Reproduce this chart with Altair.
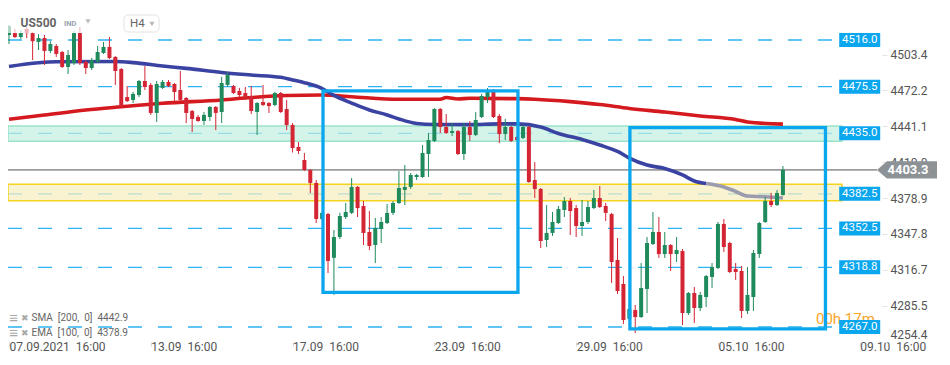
import json
import pandas as pd
import altair as alt

# ---------------- data ----------------
opens = [4520.3, 4522.0, 4518.6, 4525.5, 4522.0, 4514.3, 4517.7, 4506.5, 4510.8, 4505.6,
         4492.6, 4496.0, 4522.0, 4497.0, 4491.7, 4497.0, 4504.7, 4510.0, 4501.3, 4490.8,
         4466.5, 4464.0, 4468.3, 4480.4, 4477.0, 4452.7, 4474.4, 4479.6, 4477.8, 4472.6,
         4465.7, 4454.4, 4449.2, 4445.7, 4449.2, 4457.9, 4453.5, 4477.0, 4476.1, 4471.8,
         4470.0, 4467.4, 4453.5, 4462.2, 4461.3, 4459.6, 4470.0, 4456.1, 4442.3, 4423.2,
         4411.9, 4403.2, 4392.0, 4360.7, 4365.0, 4327.0, 4345.1, 4362.4, 4366.0, 4388.5,
         4372.0, 4349.4, 4338.1, 4352.0, 4357.2, 4366.0, 4374.6, 4385.9, 4388.5, 4397.1,
         4397.1, 4417.1, 4428.4, 4456.1, 4440.5, 4435.3, 4437.0, 4417.1, 4440.5, 4433.6,
         4449.2, 4466.5, 4471.8, 4450.1, 4434.4, 4440.5, 4431.8, 4431.0, 4440.5, 4394.5,
         4386.7, 4342.5, 4348.6, 4357.2, 4368.5, 4376.3, 4370.2, 4354.6, 4358.1, 4370.2,
         4378.9, 4372.0, 4365.0, 4325.1, 4304.3, 4274.2, 4281.7, 4275.6, 4300.0, 4339.0,
         4349.4, 4330.3, 4338.1, 4330.3, 4332.9, 4279.1, 4296.5, 4283.5, 4293.0, 4310.4,
         4318.2, 4356.4, 4339.9, 4317.3, 4315.6, 4280.9, 4293.0, 4330.3, 4358.1, 4376.3,
         4372.8, 4381.5]
highs = [4529.0, 4525.5, 4524.7, 4527.0, 4523.0, 4521.0, 4520.3, 4515.0, 4512.5, 4506.5,
         4507.3, 4523.8, 4527.3, 4498.6, 4500.4, 4510.8, 4514.3, 4518.6, 4502.0, 4491.7,
         4476.1, 4470.9, 4481.3, 4493.4, 4478.7, 4480.4, 4481.3, 4481.3, 4478.7, 4489.1,
         4466.5, 4455.3, 4451.0, 4453.5, 4458.7, 4458.7, 4484.0, 4488.2, 4477.0, 4474.4,
         4475.2, 4476.1, 4462.2, 4477.0, 4462.2, 4470.9, 4470.9, 4464.0, 4444.0, 4427.5,
         4418.0, 4404.0, 4394.5, 4366.8, 4366.0, 4351.2, 4366.0, 4374.6, 4396.3, 4389.3,
         4376.3, 4367.6, 4361.6, 4362.4, 4373.7, 4376.3, 4402.3, 4407.5, 4400.6, 4399.8,
         4424.9, 4435.3, 4457.0, 4457.0, 4451.8, 4444.0, 4437.9, 4444.0, 4445.7, 4453.5,
         4469.2, 4474.4, 4473.5, 4451.8, 4447.5, 4441.4, 4432.7, 4442.3, 4441.4, 4410.1,
         4387.6, 4372.8, 4366.8, 4372.0, 4379.8, 4379.0, 4372.8, 4377.2, 4376.3, 4385.9,
         4389.3, 4374.6, 4366.0, 4344.2, 4311.2, 4286.1, 4286.1, 4322.5, 4345.1, 4366.8,
         4362.4, 4349.4, 4339.0, 4345.1, 4334.7, 4297.4, 4301.7, 4297.4, 4312.1, 4322.5,
         4358.1, 4360.7, 4340.8, 4322.5, 4320.0, 4319.0, 4333.8, 4358.1, 4379.8, 4383.3,
         4385.9, 4406.6]
lows = [4512.5, 4517.7, 4516.9, 4517.7, 4498.6, 4507.3, 4494.3, 4504.7, 4501.3, 4491.7,
        4486.5, 4494.3, 4494.3, 4486.5, 4490.0, 4496.0, 4503.9, 4499.5, 4477.0, 4457.9,
        4462.2, 4461.3, 4466.5, 4472.6, 4451.0, 4444.9, 4473.5, 4475.2, 4463.0, 4462.2,
        4444.0, 4436.2, 4445.0, 4442.3, 4445.7, 4437.9, 4444.0, 4475.2, 4469.2, 4466.5,
        4464.0, 4451.8, 4433.6, 4458.7, 4452.7, 4458.7, 4452.7, 4437.9, 4418.4, 4417.1,
        4402.3, 4383.3, 4357.2, 4359.8, 4313.8, 4294.8, 4343.3, 4360.7, 4365.0, 4362.4,
        4338.1, 4333.8, 4322.5, 4339.9, 4356.4, 4364.2, 4373.7, 4372.8, 4386.7, 4394.5,
        4396.3, 4397.1, 4427.5, 4435.3, 4434.4, 4432.7, 4416.2, 4411.9, 4428.4, 4432.7,
        4448.3, 4461.3, 4448.3, 4426.6, 4429.2, 4427.5, 4429.0, 4430.1, 4392.0, 4378.9,
        4335.5, 4336.4, 4346.0, 4356.4, 4362.4, 4346.8, 4345.1, 4346.0, 4356.4, 4369.4,
        4370.2, 4359.0, 4305.2, 4295.6, 4269.6, 4271.6, 4261.8, 4275.0, 4279.1, 4338.1,
        4326.9, 4326.9, 4315.6, 4323.4, 4268.7, 4277.4, 4270.5, 4280.9, 4284.3, 4300.8,
        4317.3, 4332.1, 4313.8, 4307.8, 4274.8, 4278.2, 4280.9, 4326.9, 4357.2, 4371.1,
        4372.0, 4381.0]
closes = [4528.0, 4518.6, 4522.0, 4522.0, 4515.0, 4517.7, 4506.5, 4512.5, 4503.9, 4492.6,
          4503.0, 4522.0, 4496.0, 4491.7, 4498.6, 4505.6, 4510.0, 4500.4, 4489.1, 4458.7,
          4463.0, 4469.2, 4480.4, 4475.2, 4452.7, 4477.8, 4479.6, 4476.1, 4470.9, 4464.0,
          4452.7, 4447.5, 4445.7, 4451.0, 4457.9, 4452.7, 4478.7, 4485.6, 4470.0, 4468.3,
          4465.7, 4454.4, 4461.3, 4459.6, 4458.7, 4470.0, 4453.5, 4442.3, 4422.3, 4419.7,
          4403.2, 4392.0, 4360.7, 4366.0, 4324.3, 4345.1, 4363.3, 4366.8, 4388.5, 4370.2,
          4348.6, 4337.3, 4352.9, 4358.1, 4366.0, 4374.6, 4387.6, 4388.5, 4398.9, 4398.9,
          4418.0, 4429.2, 4456.1, 4440.5, 4435.3, 4437.0, 4417.1, 4440.5, 4433.6, 4446.6,
          4467.4, 4471.8, 4449.2, 4434.4, 4440.5, 4428.4, 4429.2, 4440.5, 4392.8, 4386.7,
          4341.6, 4348.6, 4358.1, 4369.4, 4376.3, 4367.6, 4354.6, 4358.1, 4371.1, 4378.9,
          4371.1, 4366.0, 4323.4, 4298.2, 4273.1, 4282.6, 4275.6, 4300.8, 4339.9, 4349.4,
          4330.3, 4338.1, 4330.3, 4333.8, 4279.1, 4296.5, 4283.5, 4294.8, 4311.2, 4319.0,
          4356.4, 4336.4, 4314.7, 4314.7, 4280.9, 4294.8, 4331.2, 4357.2, 4376.3, 4372.8,
          4383.3, 4403.3]

sma_idx = [0, 6, 13, 19, 26, 36, 41, 47, 53, 58, 66, 73, 74, 76, 78, 86, 89, 95, 100,
           105, 111, 117, 123, 125, 131]
sma_val = [4447.2, 4450.9, 4455.3, 4458.1, 4461.1, 4464.0, 4466.1, 4467.9, 4468.3, 4466.8,
           4464.6, 4464.6, 4466.1, 4464.8, 4465.4, 4465.1, 4464.6, 4462.5, 4460.0, 4456.6,
           4453.5, 4450.1, 4447.0, 4444.9, 4443.0]

ema_idx = [0, 5, 8, 18, 21, 26, 30, 36, 41, 46, 48, 50, 53, 55, 58, 61, 64, 66, 69, 72,
           78, 83, 86, 90, 93, 97, 100, 103, 105, 108, 111, 114, 116, 118, 121, 123, 125,
           128, 131]
ema_val = [4493.0, 4496.2, 4497.1, 4497.3, 4496.4, 4493.4, 4491.4, 4487.8, 4485.6, 4483.6,
           4481.3, 4479.0, 4473.9, 4467.9, 4461.3, 4455.3, 4451.0, 4447.5, 4443.6, 4442.7,
           4442.6, 4443.2, 4443.2, 4440.5, 4434.9, 4429.7, 4424.9, 4419.3, 4413.6, 4407.5,
           4404.5, 4398.9, 4393.7, 4391.5, 4388.5, 4384.6, 4380.6, 4380.0, 4378.9]
ema_grey_from = 118

levels = [4516.0, 4475.5, 4435.0, 4382.5, 4352.5, 4318.8, 4267.0]
level_text = ["4516.0", "4475.5", "4435.0", "4382.5", "4352.5", "4318.8", "4267.0"]
current_price = 4403.3

zone_names = ["teal", "yellow"]
zone_low = [4428.1, 4376.6]
zone_high = [4441.4, 4390.8]

box_start = [53.15, 105.1]
box_end = [86.15, 138.2]
box_top = [4471.8, 4439.9]
box_bottom = [4297.1, 4265.3]

x_tick_idx = [0, 24, 48, 72, 96, 120, 144]
x_tick_text = ["07.09.2021\u00a0 16:00", "13.09\u00a0 16:00", "17.09\u00a0 16:00",
               "23.09\u00a0 16:00", "29.09\u00a0 16:00", "05.10\u00a0 16:00",
               "09.10\u00a0 16:00"]
y_tick_vals = [4503.4, 4472.2, 4441.1, 4410.0, 4378.9, 4347.8, 4316.7, 4285.5, 4254.4]

# ---------------- frames ----------------
candles = pd.DataFrame({"i": list(range(len(opens))), "open": opens, "high": highs,
                        "low": lows, "close": closes})
candles["dir"] = ["up" if c >= o else "down" for o, c in zip(opens, closes)]
sma = pd.DataFrame({"i": sma_idx, "v": sma_val})
ema = pd.DataFrame({"i": ema_idx, "v": ema_val})
ema_blue = ema[ema["i"] <= ema_grey_from]
ema_grey = ema[ema["i"] >= ema_grey_from]
lv = pd.DataFrame({"price": levels, "label": level_text})
cur = pd.DataFrame({"price": [current_price], "label": [f"{current_price:.1f}"]})
zones = pd.DataFrame({"zone": zone_names, "lo": zone_low, "hi": zone_high})
boxes = pd.DataFrame({"x1": box_start, "x2": box_end, "top": box_top, "bottom": box_bottom})
one = pd.DataFrame({"a": [1]})

W, H = 874, 334
xs = alt.Scale(domain=[-0.169, 147.77], nice=False, zero=False)
ys = alt.Scale(domain=[4253.98, 4543.76], nice=False, zero=False)
FONT = "Roboto"
GREEN, RED = "#1f8a5c", "#d42535"
BLUE = "#0aa6ee"

label_expr = json.dumps(x_tick_text) + "[round(datum.value / 24)]"
x_axis = alt.Axis(values=x_tick_idx, labelExpr=label_expr, labelAlign="left",
                  labelFont=FONT, labelFontSize=12, labelColor="#555", tickColor="#d8d8d8",
                  tickSize=4, labelPadding=-5, domain=False, grid=False, title=None,
                  labelOverlap=False, labelFlush=False)
y_axis = alt.Axis(orient="right", values=y_tick_vals, format=".1f", labelFont=FONT,
                  labelFontSize=12, labelColor="#555", tickColor="#e3e3e3", tickSize=5,
                  labelPadding=3, domain=False, grid=False, title=None,
                  labelOverlap=False, labelFlush=5)


def Y(f):
    return alt.Y(f, scale=ys, axis=y_axis)


def X(f):
    return alt.X(f, scale=xs, axis=x_axis)


dir_color = alt.Color("dir:N", scale=alt.Scale(domain=["up", "down"], range=[GREEN, RED]),
                      legend=None)

level_rules = alt.Chart(lv).mark_rule(strokeDash=[14, 16], color="#2db2f2",
                                      strokeWidth=1.3).encode(
    y=Y("price:Q"), x=alt.value(0), x2=alt.value(824))
price_rule = alt.Chart(cur).mark_rule(color="#9b9b9b", strokeWidth=1.6).encode(
    y=Y("price:Q"), x=alt.value(0), x2=alt.value(869))

zone_rects = alt.Chart(zones).mark_rect(fillOpacity=0.7, strokeWidth=1.5).encode(
    y=Y("lo:Q"), y2="hi:Q", x=alt.value(0), x2=alt.value(834),
    fill=alt.Fill("zone:N", scale=alt.Scale(domain=zone_names,
                                            range=["#c3efdf", "#f8eebf"]), legend=None),
    stroke=alt.Stroke("zone:N", scale=alt.Scale(domain=zone_names,
                                                range=["#9be2c9", "#f6d31d"]), legend=None))

sma_line = alt.Chart(sma).mark_line(interpolate="monotone", color="#d51a1f",
                                    strokeWidth=3.6).encode(x=X("i:Q"), y=Y("v:Q"))
ema_line = alt.Chart(ema_blue).mark_line(interpolate="monotone", color="#3b43a2",
                                         strokeWidth=3.6).encode(x=X("i:Q"), y=Y("v:Q"))
ema_line2 = alt.Chart(ema_grey).mark_line(interpolate="monotone", color="#9c9caf",
                                          strokeWidth=3.6).encode(x=X("i:Q"), y=Y("v:Q"))

wicks = alt.Chart(candles).mark_rule(strokeWidth=1).encode(
    x=X("i:Q"), y=Y("low:Q"), y2="high:Q", color=dir_color)
bodies = alt.Chart(candles).mark_rule(strokeWidth=4, strokeCap="butt").encode(
    x=X("i:Q"), y=Y("open:Q"), y2="close:Q", color=dir_color)

box_rects = alt.Chart(boxes).mark_rect(fillOpacity=0, stroke=BLUE, strokeWidth=3.3).encode(
    x=X("x1:Q"), x2="x2:Q", y=Y("top:Q"), y2="bottom:Q")

timer = alt.Chart(one).mark_text(text="00h 17m", color="#f7a52b", fontSize=15, font=FONT,
                                 align="left", baseline="middle").encode(
    x=alt.value(808), y=alt.value(311))

badge_shape = "M-1,-0.3415H1V0.3415H-1Z"
level_badges = alt.Chart(lv).mark_point(shape=badge_shape, size=1681, filled=True,
                                        fill=BLUE, opacity=1, strokeWidth=0).encode(
    y=Y("price:Q"), x=alt.value(851.7))
level_texts = alt.Chart(lv).mark_text(color="white", fontSize=11.5, font=FONT,
                                      align="center", baseline="middle").encode(
    y=Y("price:Q"), x=alt.value(851.7), text="label:N")

arrow_shape = "M-1,0L-0.67,-0.285H1V0.285H-0.67Z"
price_badge = alt.Chart(cur).mark_point(shape=arrow_shape, size=3600, filled=True,
                                        fill="#8d9297", opacity=1, strokeWidth=0).encode(
    y=Y("price:Q"), x=alt.value(899))
price_text = alt.Chart(cur).mark_text(color="white", fontSize=13, font=FONT,
                                      fontWeight="bold", align="center",
                                      baseline="middle").encode(
    y=Y("price:Q"), x=alt.value(900), text="label:N")

# header
hdr_bg = alt.Chart(one).mark_rect(fill="white", opacity=0.65).encode(
    x=alt.value(0), x2=alt.value(92), y=alt.value(2), y2=alt.value(25))
hdr_box = alt.Chart(one).mark_rect(fill="white", stroke="#e2e2e2", strokeWidth=1,
                                   cornerRadius=4).encode(
    x=alt.value(116), x2=alt.value(151), y=alt.value(7), y2=alt.value(24))
hdr_name = alt.Chart(one).mark_text(text="US500", fontSize=12, fontWeight="bold",
                                    font=FONT, color="#666", align="left",
                                    baseline="middle").encode(x=alt.value(12.5), y=alt.value(15))
hdr_ind = alt.Chart(one).mark_text(text="IND", fontSize=7.5, fontWeight="bold", font=FONT,
                                   color="#98a3ae", align="left",
                                   baseline="middle").encode(x=alt.value(56), y=alt.value(16))
hdr_tf = alt.Chart(one).mark_text(text="H4", fontSize=11.5, font=FONT, color="#666",
                                  align="left", baseline="middle").encode(
    x=alt.value(122), y=alt.value(15.5))
tri1 = alt.Chart(one).mark_point(shape="triangle-down", size=28, filled=True,
                                 color="#bbbbbb", opacity=1).encode(
    x=alt.value(80), y=alt.value(13.5))
tri2 = alt.Chart(one).mark_point(shape="triangle-down", size=28, filled=True,
                                 color="#bbbbbb", opacity=1).encode(
    x=alt.value(144), y=alt.value(16))

# indicator legend
leg = []
for row, txt in [(310, "SMA\u00a0 [200,\u00a0 0]\u00a0 4442.9"),
                 (325, "EMA\u00a0 [100,\u00a0 0]\u00a0 4378.9")]:
    leg.append(alt.Chart(one).mark_text(text="\u2261", fontSize=15, fontWeight="bold",
                                        color="#a8a8a8", align="center",
                                        baseline="middle").encode(
        x=alt.value(5.5), y=alt.value(row)))
    leg.append(alt.Chart(one).mark_text(text="\u2716", fontSize=9, color="#a8a8a8",
                                        align="center", baseline="middle").encode(
        x=alt.value(16.5), y=alt.value(row)))
    leg.append(alt.Chart(one).mark_text(text=txt, fontSize=10, font=FONT, color="#666",
                                        align="left", baseline="middle").encode(
        x=alt.value(23.5), y=alt.value(row)))

chart = alt.layer(
    level_rules, price_rule, zone_rects, sma_line, ema_line, ema_line2, wicks, bodies,
    timer, box_rects, level_badges, level_texts, price_badge, price_text,
    hdr_bg, hdr_box, hdr_name, hdr_ind, hdr_tf, tri1, tri2, *leg
).properties(
    width=W, height=H, background="white",
    autosize=alt.AutoSizeParams(type="none"),
    padding={"left": 0, "top": 0, "right": 60, "bottom": 20},
).configure_view(strokeWidth=0)

chart.save("out.html", embed_options={"renderer": "svg", "actions": False})
